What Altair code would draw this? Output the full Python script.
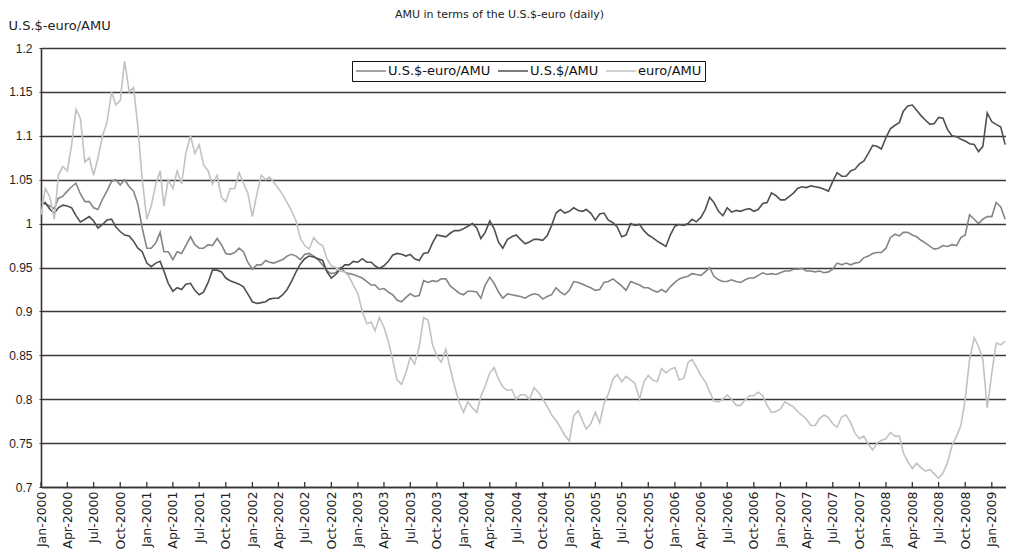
import altair as alt
import pandas as pd

# ---- semi-monthly sample dates (1st and 16th of each month), Jan-2000 .. Feb-2009
months = pd.date_range("2000-01-01", "2009-02-01", freq="MS")
dates = []
for m in months:
    dates.append(m.strftime("%Y-%m-%d"))
    dates.append((m + pd.Timedelta(days=15)).strftime("%Y-%m-%d"))

series_names = ["U.S.$-euro/AMU", "U.S.$/AMU", "euro/AMU"]
series_colors = ["#858585", "#505050", "#c2c2c2"]

usd_euro_amu = [
    1.025, 1.022, 1.02, 1.017, 1.029, 1.031, 1.037, 1.042, 1.046, 1.034,
    1.025, 1.025, 1.018, 1.016, 1.028, 1.037, 1.048, 1.05, 1.044, 1.05,
    1.042, 1.037, 1.022, 0.995, 0.972, 0.972, 0.978, 0.99, 0.968, 0.968,
    0.959, 0.968, 0.966, 0.975, 0.985, 0.976, 0.972, 0.972, 0.976, 0.975,
    0.983, 0.976, 0.966, 0.965,
    0.967, 0.972, 0.968, 0.956, 0.948, 0.953,
    0.953, 0.958, 0.956, 0.955, 0.957, 0.959, 0.963, 0.965, 0.963, 0.959,
    0.965, 0.966, 0.963, 0.959, 0.953, 0.946, 0.943, 0.944, 0.95, 0.945,
    0.943, 0.942, 0.94, 0.938, 0.934, 0.93, 0.93, 0.925, 0.926, 0.922,
    0.919, 0.913, 0.911, 0.916, 0.92, 0.917, 0.918, 0.935,
    0.933, 0.935,
    0.934, 0.937, 0.937, 0.929, 0.925, 0.921, 0.919, 0.923, 0.923, 0.922,
    0.915, 0.93, 0.939, 0.932, 0.922, 0.915, 0.92, 0.919, 0.918, 0.917,
    0.915, 0.918, 0.92, 0.919, 0.914, 0.917, 0.919, 0.927, 0.922, 0.919,
    0.924, 0.934, 0.933, 0.931, 0.929, 0.927, 0.924, 0.925, 0.933, 0.934,
    0.937, 0.933,
    0.929, 0.924, 0.934, 0.932, 0.93, 0.927, 0.927, 0.924,
    0.922, 0.925, 0.922, 0.928, 0.933, 0.937, 0.939, 0.94, 0.943, 0.942,
    0.941, 0.945, 0.95, 0.94, 0.936, 0.934, 0.934, 0.936, 0.934, 0.933,
    0.936, 0.938, 0.938, 0.941, 0.944, 0.942, 0.943, 0.942, 0.944, 0.946,
    0.946, 0.948, 0.948, 0.949, 0.946, 0.946,
    0.945, 0.946, 0.944, 0.945,
    0.948, 0.955, 0.953, 0.955, 0.953, 0.955, 0.956, 0.961, 0.963, 0.966,
    0.967, 0.967, 0.972, 0.984, 0.988, 0.986, 0.99, 0.99, 0.987, 0.985,
    0.981, 0.978, 0.974, 0.971, 0.972, 0.975, 0.974, 0.976, 0.975, 0.984,
    0.987, 1.01, 1.005, 1.0, 1.005, 1.008, 1.008, 1.024, 1.019, 1.005,
]

usd_amu = [
    1.022, 1.024, 1.016, 1.012, 1.018, 1.021, 1.02, 1.018, 1.009, 1.002,
    1.005, 1.008, 1.003, 0.995, 0.999, 1.004, 1.005, 0.996, 0.991, 0.987,
    0.986, 0.98, 0.972, 0.968, 0.955, 0.951, 0.955, 0.957, 0.946, 0.932,
    0.923, 0.927, 0.925, 0.931, 0.932, 0.924, 0.919, 0.922, 0.933, 0.947,
    0.947, 0.945, 0.938, 0.935,
    0.933, 0.931, 0.928, 0.92, 0.911, 0.909,
    0.91, 0.911, 0.914, 0.915, 0.915, 0.919, 0.925, 0.934, 0.945, 0.954,
    0.96, 0.963, 0.962, 0.96, 0.958, 0.945, 0.938, 0.942, 0.948, 0.953,
    0.953, 0.957, 0.956, 0.96, 0.956, 0.956, 0.952, 0.949, 0.952, 0.957,
    0.964, 0.966, 0.965, 0.963, 0.965, 0.96, 0.958, 0.966,
    0.967, 0.978,
    0.987, 0.986, 0.985, 0.989, 0.992, 0.992, 0.994, 0.997, 1.0, 0.995,
    0.983, 0.99, 1.003, 0.994, 0.979, 0.972, 0.982, 0.985, 0.987, 0.982,
    0.977, 0.979, 0.982, 0.982, 0.981, 0.986, 0.998, 1.012, 1.016, 1.012,
    1.014, 1.018, 1.015, 1.014, 1.016, 1.012, 1.004, 1.011, 1.012, 1.004,
    1.001, 0.996,
    0.985, 0.987, 1.0, 0.998, 0.999, 0.992, 0.987, 0.984,
    0.98, 0.977, 0.974, 0.987, 0.997, 0.999, 0.998, 1.0, 1.005, 1.002,
    1.007, 1.016, 1.03, 1.024, 1.014, 1.009, 1.018, 1.013, 1.015, 1.014,
    1.016, 1.017, 1.014, 1.016, 1.023, 1.024, 1.035, 1.032, 1.027, 1.027,
    1.031, 1.035, 1.04, 1.042, 1.041, 1.043,
    1.042, 1.041, 1.039, 1.037,
    1.048, 1.058, 1.054, 1.054, 1.06, 1.062, 1.068, 1.071, 1.08, 1.089,
    1.088, 1.085, 1.098, 1.108, 1.112, 1.115, 1.128, 1.134, 1.135, 1.129,
    1.123, 1.118, 1.113, 1.114, 1.121, 1.12, 1.107, 1.1, 1.099, 1.096,
    1.094, 1.091, 1.09, 1.082, 1.088, 1.126, 1.116, 1.113, 1.11, 1.09,
]

euro_amu = [
    1.01, 1.04, 1.03, 1.005, 1.055, 1.065, 1.06, 1.09, 1.13, 1.12,
    1.07, 1.075, 1.055, 1.075, 1.10, 1.115, 1.15, 1.135, 1.14, 1.185,
    1.15, 1.155, 1.11, 1.05, 1.005, 1.02, 1.045, 1.06, 1.02, 1.05,
    1.04, 1.06, 1.045, 1.08, 1.10, 1.08, 1.09, 1.067, 1.06, 1.045,
    1.055, 1.03, 1.025, 1.04,
    1.04, 1.058, 1.046, 1.035, 1.008, 1.033,
    1.055, 1.05, 1.053, 1.047, 1.04, 1.033, 1.024, 1.015, 1.003, 0.983,
    0.975, 0.971, 0.984, 0.978, 0.975, 0.96, 0.952, 0.95, 0.946, 0.945,
    0.94, 0.93, 0.92, 0.90, 0.886, 0.888, 0.878, 0.893, 0.882, 0.866,
    0.845, 0.822, 0.817, 0.83, 0.848, 0.84, 0.86, 0.893,
    0.89, 0.862,
    0.849, 0.842, 0.857, 0.835, 0.815, 0.797, 0.785, 0.797, 0.79, 0.785,
    0.803, 0.815, 0.83, 0.836, 0.823, 0.814, 0.81, 0.811, 0.8, 0.805,
    0.805, 0.8, 0.813, 0.808, 0.8, 0.792, 0.782, 0.776, 0.768, 0.759,
    0.752, 0.781, 0.787, 0.775, 0.766, 0.772, 0.785, 0.773, 0.795, 0.806,
    0.823, 0.828,
    0.82, 0.826, 0.822, 0.818, 0.80, 0.82, 0.827, 0.822,
    0.82, 0.835, 0.83, 0.834, 0.836, 0.822, 0.824, 0.842, 0.845, 0.837,
    0.827, 0.82, 0.809, 0.798, 0.797, 0.8, 0.805, 0.80, 0.793, 0.793,
    0.799, 0.804, 0.804, 0.808, 0.804, 0.793, 0.785, 0.786, 0.789, 0.797,
    0.794, 0.791, 0.786, 0.782, 0.777, 0.77,
    0.77, 0.778, 0.782, 0.779,
    0.772, 0.768, 0.78, 0.782, 0.773, 0.761, 0.755, 0.758, 0.749, 0.742,
    0.75, 0.753, 0.755, 0.762, 0.758, 0.758, 0.739, 0.729, 0.721, 0.727,
    0.722, 0.718, 0.72, 0.715, 0.71, 0.716, 0.728, 0.747, 0.758, 0.77,
    0.80, 0.845, 0.87, 0.86, 0.845, 0.79, 0.83, 0.864, 0.862, 0.866,
]

y_ticks = [0.7, 0.75, 0.8, 0.85, 0.9, 0.95, 1.0, 1.05, 1.1, 1.15, 1.2]
tick_years = list(range(2000, 2010))
tick_months = [1, 4, 7, 10]

FONT = "DejaVu Sans"

rows = []
for name, vals in zip(series_names, [usd_euro_amu, usd_amu, euro_amu]):
    for d, v in zip(dates, vals):
        rows.append({"date": d, "series": name, "value": v})
df = pd.DataFrame(rows)

quarter_dates = []
for yr in tick_years:
    for mo in tick_months:
        if yr == 2009 and mo > 1:
            continue
        quarter_dates.append(f"{yr}-{mo:02d}-01")
ticks_df = pd.DataFrame({"date": quarter_dates})

axis_values = [alt.DateTime(year=int(s[:4]), month=int(s[5:7]), date=1, utc=True)
               for s in quarter_dates]

x_scale = alt.Scale(
    type="utc",
    domain=[alt.DateTime(year=2000, month=1, date=1, utc=True),
            alt.DateTime(year=2009, month=2, date=19, utc=True)],
)

x_axis = alt.Axis(
    values=axis_values,
    format="%b-%Y",
    labelAngle=-90,
    labelAlign="right",
    labelBaseline="middle",
    labelPadding=4,
    labelFont=FONT,
    labelFontSize=12.5,
    labelColor="#222222",
    labelFlush=False,
    labelOverlap=False,
    labelSeparation=0,
    ticks=False,
    grid=False,
    domainColor="#333333",
    domainWidth=1.6,
)

x_enc = alt.X("date:T", scale=x_scale, title=None, axis=x_axis)

y_axis = alt.Axis(
    values=y_ticks,
    format=".3~g",
    title="U.S.$-euro/AMU",
    titleAngle=0,
    titleAlign="left",
    titleBaseline="middle",
    titleX=-33,
    titleY=-23,
    titleFont=FONT,
    titleFontSize=13,
    titleFontWeight="normal",
    titleColor="#222222",
    labelFont="Liberation Sans",
    labelFontSize=12,
    labelColor="#222222",
    labelPadding=7,
    labelFlush=False,
    tickSize=2,
    tickColor="#333333",
    domainColor="#333333",
    domainWidth=1.6,
    gridColor="#3a3a3a",
    gridWidth=1.3,
)

y_enc = alt.Y("value:Q", scale=alt.Scale(domain=[0.7, 1.2], nice=False, zero=False),
              axis=y_axis)

lines = alt.Chart(df).mark_line(strokeWidth=1.6, clip=True).encode(
    x=x_enc,
    y=y_enc,
    color=alt.Color(
        "series:N",
        scale=alt.Scale(domain=series_names, range=series_colors),
        legend=alt.Legend(
            title=None,
            orient="none",
            legendX=311,
            legendY=13,
            direction="horizontal",
            symbolType="M-1,0H4",
            symbolSize=144,
            symbolStrokeWidth=1.5,
            labelFont=FONT,
            labelFontSize=13,
            labelColor="#111111",
            labelOffset=19,
            columnPadding=4,
            padding=3,
            strokeColor="#111111",
            fillColor="white",
        ),
    ),
)

ticks = alt.Chart(ticks_df).mark_rule(color="#333333", strokeWidth=1.3).encode(
    x=x_enc,
    y=alt.datum(0.7),
    y2=alt.datum(0.7057),
)

chart = (
    alt.layer(lines, ticks)
    .properties(
        width=965,
        height=439,
        padding={"left": 33, "top": 40, "right": 0, "bottom": 64},
        autosize=alt.AutoSizeParams(type="none"),
        background="white",
        title=alt.TitleParams(
            "AMU in terms of the U.S.$-euro (daily)",
            font=FONT,
            fontSize=11,
            fontWeight="normal",
            color="#222222",
            anchor="middle",
            dx=-24,
            dy=1,
            offset=0,
        ),
    )
    .configure_view(strokeWidth=0)
)

chart.save("out.html", embed_options={"renderer": "svg", "actions": False})
